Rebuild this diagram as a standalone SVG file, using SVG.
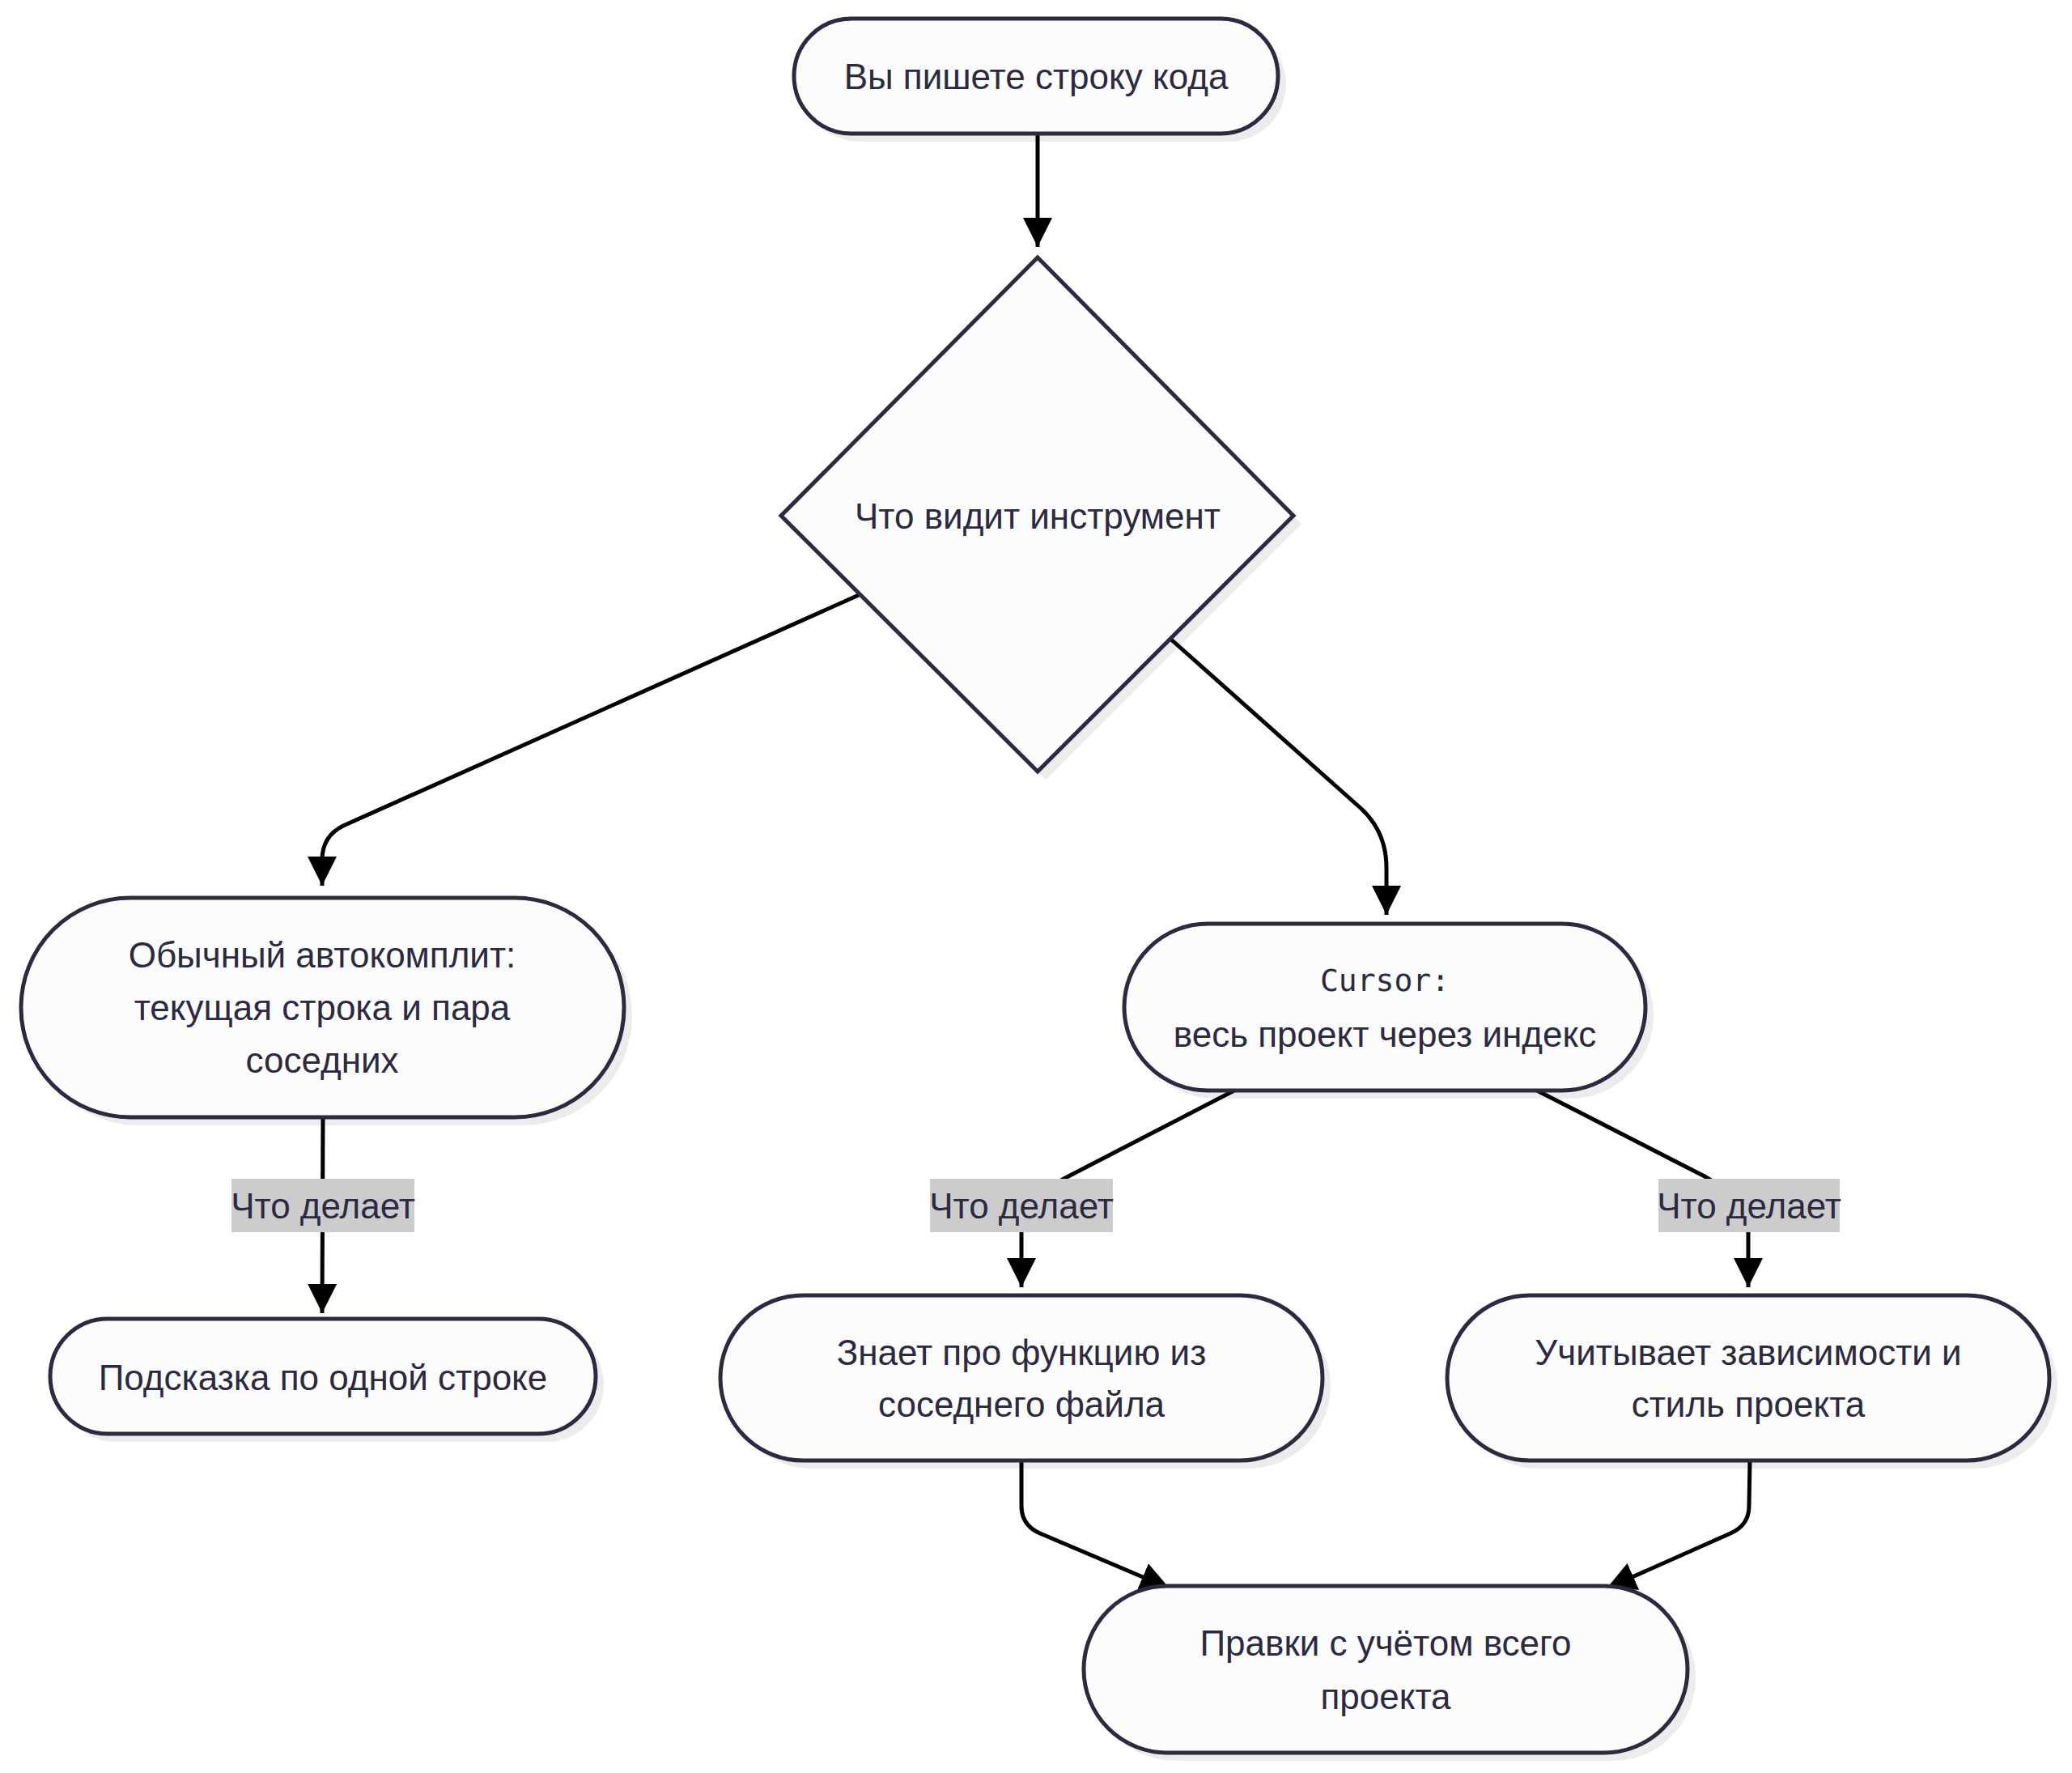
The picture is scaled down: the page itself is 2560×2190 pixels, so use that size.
<svg xmlns="http://www.w3.org/2000/svg" width="2560" height="2190" viewBox="0 0 2560 2190">
<style>
.node{fill:#fcfcfc;stroke:#2b2a40;stroke-width:5}
.shadow{fill:#ececec;stroke:none}
.t{font-family:"Liberation Sans",Arial,sans-serif;font-size:44px;fill:#2b2a40;text-anchor:middle;dominant-baseline:central}
.mono{font-family:"DejaVu Sans Mono","Liberation Mono",monospace;font-size:38px}
.edge{fill:none;stroke:#000;stroke-width:5}
.lbl{fill:#cccccc}
</style>
<defs>
<marker id="arr" markerUnits="userSpaceOnUse" markerWidth="36" markerHeight="36" viewBox="0 0 10 10" refX="10" refY="5" orient="auto">
<path d="M0,0 L10,5 L0,10 z" fill="#000"/>
</marker>
</defs>
<rect width="2560" height="2190" fill="#ffffff"/>
<g id="shadows">
<rect class="shadow" x="991" y="33" width="598" height="142" rx="71"/>
<polygon class="shadow" points="1292,328 1608,647 1292,963 975,647"/>
<rect class="shadow" x="36" y="1119" width="745" height="271" rx="135"/>
<rect class="shadow" x="1399" y="1151" width="644" height="206" rx="103"/>
<rect class="shadow" x="72" y="1639" width="674" height="142" rx="71"/>
<rect class="shadow" x="900" y="1610" width="744" height="204" rx="102"/>
<rect class="shadow" x="1798" y="1610" width="744" height="204" rx="102"/>
<rect class="shadow" x="1349" y="1969" width="746" height="206" rx="103"/>
</g>
<g id="connectors">
<path class="edge" d="M1282,165 L1282,305" marker-end="url(#arr)"/>
<path class="edge" d="M1061,735 L424,1020 Q398,1033 398,1062 L398,1094" marker-end="url(#arr)"/>
<path class="edge" d="M1446,789 L1682,999 Q1713,1028 1713,1072 L1713,1130" marker-end="url(#arr)"/>
<path class="edge" d="M399,1380 L398,1622" marker-end="url(#arr)"/>
<path class="edge" d="M1527,1346 L1320,1453 Q1262,1483 1262,1520 L1262,1590" marker-end="url(#arr)"/>
<path class="edge" d="M1897,1346 L2106,1453 Q2160,1483 2160,1520 L2160,1590" marker-end="url(#arr)"/>
<path class="edge" d="M1262,1804 L1262,1860 Q1262,1884 1285,1894 L1445,1962" marker-end="url(#arr)"/>
<path class="edge" d="M2162,1804 L2161,1860 Q2161,1884 2138,1894 L1985,1962" marker-end="url(#arr)"/>
<rect class="lbl" x="286" y="1456" width="226" height="66"/>
<text class="t" x="399" y="1489">Что делает</text>
<rect class="lbl" x="1149" y="1456" width="226" height="66"/>
<text class="t" x="1262" y="1489">Что делает</text>
<rect class="lbl" x="2049" y="1456" width="224" height="66"/>
<text class="t" x="2161" y="1489">Что делает</text>
</g>
<g id="nodeA">
<rect class="node" x="981" y="23" width="598" height="142" rx="71"/>
<text class="t" x="1280" y="94">Вы пишете строку кода</text>
</g>
<g id="nodeB">
<polygon class="node" points="1282,318 1598,637 1282,953 965,637"/>
<text class="t" x="1282" y="637">Что видит инструмент</text>
</g>
<g id="nodeC">
<rect class="node" x="26" y="1109" width="745" height="271" rx="135"/>
<text class="t" x="398" y="1179">Обычный автокомплит:</text>
<text class="t" x="398" y="1244">текущая строка и пара</text>
<text class="t" x="398" y="1309">соседних</text>
</g>
<g id="nodeD">
<rect class="node" x="1389" y="1141" width="644" height="206" rx="103"/>
<text class="t mono" x="1711" y="1211">Cursor:</text>
<text class="t" x="1711" y="1277">весь проект через индекс</text>
</g>
<g id="nodeE">
<rect class="node" x="62" y="1629" width="674" height="142" rx="71"/>
<text class="t" x="399" y="1701">Подсказка по одной строке</text>
</g>
<g id="nodeF">
<rect class="node" x="890" y="1600" width="744" height="204" rx="102"/>
<text class="t" x="1262" y="1670">Знает про функцию из</text>
<text class="t" x="1262" y="1734">соседнего файла</text>
</g>
<g id="nodeG">
<rect class="node" x="1788" y="1600" width="744" height="204" rx="102"/>
<text class="t" x="2160" y="1670">Учитывает зависимости и</text>
<text class="t" x="2160" y="1734">стиль проекта</text>
</g>
<g id="nodeH">
<rect class="node" x="1339" y="1959" width="746" height="206" rx="103"/>
<text class="t" x="1712" y="2029">Правки с учётом всего</text>
<text class="t" x="1712" y="2095">проекта</text>
</g>
</svg>
